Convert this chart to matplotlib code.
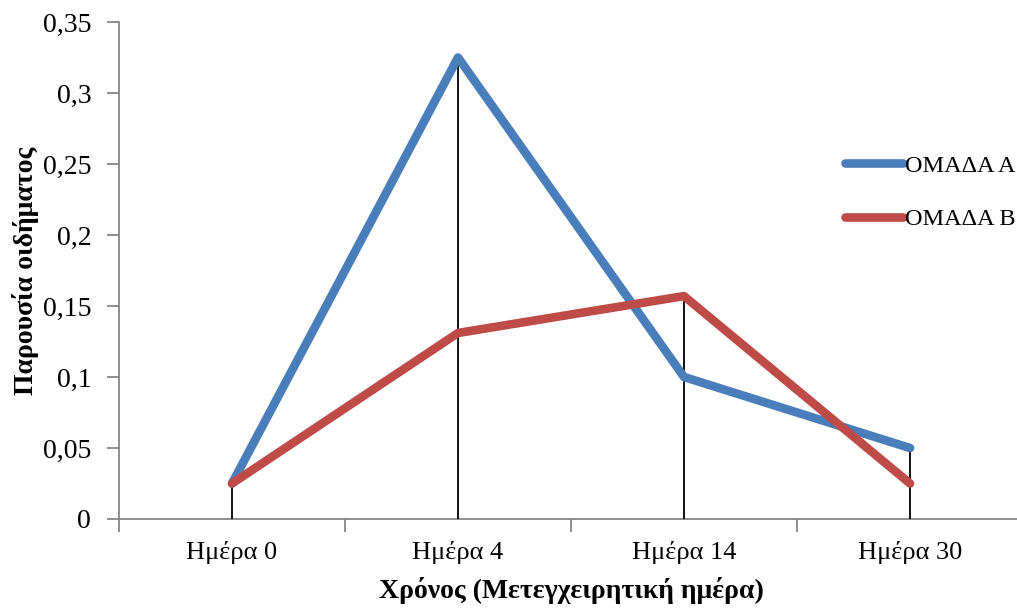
import numpy as np, matplotlib
matplotlib.use('Agg')
import matplotlib.pyplot as plt
from matplotlib.ticker import FixedLocator, FuncFormatter

categories=['Ημέρα 0','Ημέρα 4','Ημέρα 14','Ημέρα 30']
group_a=[0.025,0.325,0.10,0.05]
group_b=[0.025,0.131,0.157,0.025]
y_ticks=[0,0.05,0.1,0.15,0.2,0.25,0.3,0.35]

C_A='#4A7EBB'; C_B='#BE4B48'; C_AX='#868686'
plt.rcParams['font.family']=['Liberation Serif','DejaVu Serif']

fig=plt.figure(figsize=(10.17,6.09),dpi=100,facecolor='white')
ax=fig.add_axes([119/1017,1-519/609,904/1017,497/609])
x=np.arange(len(categories))
# drop lines to the highest series point
tops=np.maximum(group_a,group_b)
ax.vlines(x,0,tops,color='black',lw=1.3,zorder=2)
ax.plot(x,group_a,color=C_A,lw=6.2,solid_capstyle='round',solid_joinstyle='round',label='ΟΜΑΔΑ Α',zorder=3)
ax.plot(x,group_b,color=C_B,lw=6.2,solid_capstyle='round',solid_joinstyle='round',label='ΟΜΑΔΑ Β',zorder=4)

ax.set_xlim(-0.5,len(categories)-0.5); ax.set_ylim(0,0.35)
ax.set_yticks(y_ticks)
ax.yaxis.set_major_formatter(FuncFormatter(lambda v,_: f'{v:g}'.replace('.',',')))
ax.set_xticks(x); ax.set_xticklabels(categories)
ax.xaxis.set_minor_locator(FixedLocator(np.arange(-0.5,len(categories),1.0)))
ax.tick_params(axis='x',which='major',length=0,pad=16,labelsize=19)
ax.tick_params(axis='x',which='minor',length=9,width=1.3,color=C_AX,direction='out')
ax.tick_params(axis='y',length=9,width=1.3,color=C_AX,direction='out',pad=11,labelsize=20)
for s in ['top','right']: ax.spines[s].set_visible(False)
for s in ['left','bottom']: ax.spines[s].set_color(C_AX); ax.spines[s].set_linewidth(1.3)
ax.spines['bottom'].set_zorder(1)

ax.set_xlabel('Χρόνος (Μετεγχειρητική ημέρα)',fontsize=20,fontweight='bold',labelpad=9)
ax.set_ylabel('Παρουσία οιδήματος',fontsize=20,fontweight='bold',labelpad=3)

leg=ax.legend(loc='upper left',bbox_to_anchor=((835-119)/904,1-(145-22)/497),
              frameon=False,fontsize=17.5,handlelength=2.4,handletextpad=0.1,labelspacing=1.3,
              borderaxespad=0)
fig.savefig('out.png',dpi=100,facecolor='white')
